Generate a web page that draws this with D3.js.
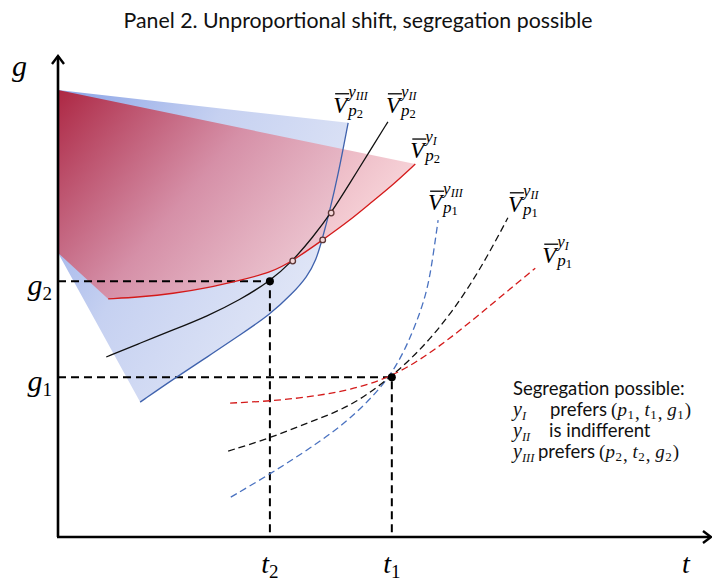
<!DOCTYPE html>
<html><head><meta charset="utf-8">
<script src="https://cdn.jsdelivr.net/npm/d3@7"></script>
<style>body{margin:0;background:#fff}</style>
</head><body>
<svg id="c" width="712" height="582"></svg>
<script>
// ---------- data (t, g units) ----------
const tickT = [3.25, 5.12];                 // t2, t1
const tickTLabels = [["t","2"],["t","1"]];
const tickG = [5.33, 3.33];                 // g2, g1
const tickGLabels = [["g","2"],["g","1"]];

const vP2yIII = [[1.26,2.81],[1.79,3.31],[2.29,3.75],[2.79,4.21],[3.25,4.63],[3.60,5.08],[3.82,5.42],[3.96,5.77],[4.05,6.19],[4.17,6.81],[4.29,7.50],[4.45,8.63]];
const vP2yII  = [[0.74,3.75],[1.26,4.04],[1.76,4.31],[2.29,4.60],[2.79,4.94],[3.25,5.33],[3.60,5.75],[3.91,6.25],[4.19,6.75],[4.48,7.38],[4.79,8.06],[5.06,8.65]];
const vP2yI   = [[0.77,4.96],[1.26,5.00],[1.76,5.07],[2.29,5.19],[2.79,5.35],[3.25,5.50],[3.60,5.75],[4.06,6.19],[4.48,6.60],[4.83,7.00],[5.14,7.34],[5.48,7.77]];

const vP1yIII = [[2.65,0.83],[3.25,1.31],[3.87,1.85],[4.48,2.44],[5.12,3.33],[5.44,4.25],[5.66,5.08],[5.75,5.83],[5.83,6.60]];
const vP1yII  = [[2.61,1.79],[3.25,2.06],[3.87,2.40],[4.48,2.71],[5.12,3.33],[5.71,4.10],[6.21,5.00],[6.58,5.83],[6.90,6.65]];
const vP1yI   = [[2.64,2.79],[3.25,2.83],[3.87,2.92],[4.48,3.06],[5.12,3.33],[5.71,3.83],[6.21,4.35],[6.73,4.94],[7.32,5.60]];

const regionTopLeft = [0, 9.31];
const regionLeft = [0, 5.92];

const bundles = [[3.25,5.33],[5.12,3.33]];          // (t2,g2), (t1,g1)
const crossings = [[3.60,5.75],[4.06,6.19],[4.19,6.75]];

const titleText = "Panel 2. Unproportional shift, segregation possible";
const legendTitle = "Segregation possible:";

// ---------- setup ----------
const svg = d3.select("#c");
const x = d3.scaleLinear().domain([0,10]).range([58,710]);
const y = d3.scaleLinear().domain([0,10]).range([537,57]);
const line = d3.line().x(d=>x(d[0])).y(d=>y(d[1])).curve(d3.curveBasis);

const defs = svg.append("defs");
const gb = defs.append("linearGradient").attr("id","gblue").attr("gradientUnits","userSpaceOnUse")
  .attr("x1",58).attr("y1",90).attr("x2",350).attr("y2",260);
gb.append("stop").attr("offset",0).attr("stop-color","#8aa3e6");
gb.append("stop").attr("offset",0.45).attr("stop-color","#c6d1f1");
gb.append("stop").attr("offset",1).attr("stop-color","#e3e8f7");
const gr = defs.append("linearGradient").attr("id","gred").attr("gradientUnits","userSpaceOnUse")
  .attr("x1",58).attr("y1",90).attr("x2",340).attr("y2",330);
gr.append("stop").attr("offset",0).attr("stop-color","#ad2743").attr("stop-opacity",1);
gr.append("stop").attr("offset",0.45).attr("stop-color","#d7889f").attr("stop-opacity",0.9);
gr.append("stop").attr("offset",1).attr("stop-color","#fdd8da").attr("stop-opacity",0.75);

function pt(d){return x(d[0])+","+y(d[1]);}
const bluePath = "M"+pt(regionTopLeft)+"L"+line(vP2yIII.slice().reverse()).slice(1)+"L"+pt(regionLeft)+"Z";
svg.append("path").attr("d",bluePath).attr("fill","url(#gblue)");
const redPath = "M"+pt(regionTopLeft)+"L"+line(vP2yI.slice().reverse()).slice(1)+"L"+pt(regionLeft)+"Z";
svg.append("path").attr("d",redPath).attr("fill","url(#gred)");

// guide dashed lines
tickT.forEach((t,i)=>{
  const g = tickG[i];
  svg.append("path").attr("d",`M${x(0)},${y(g)}H${x(t)}V${y(0)}`)
    .attr("fill","none").attr("stroke","#000").attr("stroke-width",2).attr("stroke-dasharray","8,5");
});

// curves
const curves = [
  {d:vP2yIII, c:"#3f62ad", dash:null},
  {d:vP2yII,  c:"#111",    dash:null},
  {d:vP2yI,   c:"#d41a1a", dash:null},
  {d:vP1yIII, c:"#4a72c0", dash:"7,4"},
  {d:vP1yII,  c:"#111",    dash:"7,4"},
  {d:vP1yI,   c:"#d41a1a", dash:"7,4"}
];
curves.forEach(k=>{
  svg.append("path").attr("d",line(k.d)).attr("fill","none").attr("stroke",k.c)
    .attr("stroke-width",1.3).attr("stroke-dasharray",k.dash);
});

// axes
svg.append("path").attr("d",`M${x(0)},${y(0)}V${y(10)-1}`).attr("stroke","#000").attr("stroke-width",2.6).attr("fill","none");
svg.append("path").attr("d",`M${x(0)-1},${y(0)}H${x(10)}`).attr("stroke","#000").attr("stroke-width",2.6).attr("fill","none");
svg.append("path").attr("d",`M${x(0)-6},${y(10)+7}L${x(0)},${y(10)-1}L${x(0)+6},${y(10)+7}`).attr("stroke","#000").attr("stroke-width",2.4).attr("fill","none");
svg.append("path").attr("d",`M${x(10)-7},${y(0)-6}L${x(10)+1},${y(0)}L${x(10)-7},${y(0)+6}`).attr("stroke","#000").attr("stroke-width",2.4).attr("fill","none");

// points
svg.selectAll(".cr").data(crossings).enter().append("circle")
  .attr("cx",d=>x(d[0])).attr("cy",d=>y(d[1])).attr("r",2.8)
  .attr("fill","#f3d6d8").attr("stroke","#5b3535").attr("stroke-width",1.3);
svg.selectAll(".bd").data(bundles).enter().append("circle")
  .attr("cx",d=>x(d[0])).attr("cy",d=>y(d[1])).attr("r",4).attr("fill","#000");

const serif = "'Liberation Serif', 'DejaVu Serif', serif";
const sans = "Lato, 'Open Sans', sans-serif";

// title
svg.append("text").attr("x",358).attr("y",28).attr("text-anchor","middle")
  .attr("font-family",sans).attr("font-size",21.3).attr("fill","#111").text(titleText);

// axis labels
svg.append("text").attr("x",12).attr("y",76).attr("font-family",serif).attr("font-style","italic")
  .attr("font-size",30).text("g");
svg.append("text").attr("x",682).attr("y",573).attr("font-family",serif).attr("font-style","italic")
  .attr("font-size",28).text("t");

function subLabel(px, py, parts, anchor, big, small){
  const t = svg.append("text").attr("x",px).attr("y",py).attr("text-anchor",anchor)
    .attr("font-family",serif).attr("font-size",big);
  t.append("tspan").attr("font-style","italic").text(parts[0]);
  t.append("tspan").attr("font-size",small).attr("dy",5).text(parts[1]);
  return t;
}
tickT.forEach((t,i)=>subLabel(x(t), 573, tickTLabels[i], "middle", 28, 19));
tickG.forEach((g,i)=>subLabel(52, y(g)+14, tickGLabels[i], "end", 30, 19));

// V-bar labels
function vLabel(xl, base, supSub, subDigit){
  const g = svg.append("g").attr("font-family",serif).attr("font-style","italic");
  g.append("text").attr("x",xl).attr("y",base).attr("font-size",23).text("V");
  g.append("line").attr("x1",xl+2).attr("x2",xl+16).attr("y1",base-19).attr("y2",base-19)
    .attr("stroke","#000").attr("stroke-width",1.3);
  const s = g.append("text").attr("x",xl+15).attr("y",base-16).attr("font-size",17);
  s.append("tspan").text("y");
  s.append("tspan").attr("font-size",12).attr("dy",3).text(supSub);
  const b = g.append("text").attr("x",xl+15).attr("y",base+3).attr("font-size",17);
  b.append("tspan").text("p");
  b.append("tspan").attr("font-size",12.5).attr("font-style","normal").attr("dy",2).text(subDigit);
}
const endOf = a=>a[a.length-1];
function vAt(arr, dx, dy, s, d){ const e=endOf(arr); vLabel(x(e[0])+dx, y(e[1])+dy, s, d); }
vAt(vP2yIII, -15, -10, "III", "2");
vAt(vP2yII, -2, -9, "II", "2");
vAt(vP2yI, -5, -6, "I", "2");
vAt(vP1yIII, -10, -10, "III", "1");
vAt(vP1yII, 0, -6, "II", "1");
vAt(vP1yI, 7, -5, "I", "1");

// legend
const lx = 513;
const lfs = 18.5;
svg.append("text").attr("x",lx).attr("y",395).attr("font-family",sans).attr("font-size",lfs).attr("fill","#111").text(legendTitle);
function legendRow(base, sub, word, wx, n){
  const g = svg.append("g").attr("fill","#111");
  const a = g.append("text").attr("x",lx).attr("y",base).attr("font-family",serif).attr("font-style","italic").attr("font-size",20);
  a.append("tspan").text("y");
  a.append("tspan").attr("font-size",12.5).attr("dy",4).text(sub);
  const w = g.append("text").attr("x",wx).attr("y",base).attr("font-family",sans).attr("font-size",lfs).text(word);
  if(n){
    const tx = wx + w.node().getComputedTextLength() + 4;
    const t = g.append("text").attr("x",tx).attr("y",base).attr("font-family",serif).attr("font-size",19);
    const parts = ["p","t","g"];
    t.append("tspan").text("(");
    parts.forEach((p,i)=>{
      t.append("tspan").attr("font-style","italic").attr("dy",i===0?0:-3).text(p);
      t.append("tspan").attr("font-size",13).attr("dy",3).attr("dx",0.5).text(n);
      if(i<2) t.append("tspan").attr("dx",1).text(", ");
    });
    t.append("tspan").attr("dy",-3).attr("dx",1).text(")");
  }
}
legendRow(416, "I", "prefers", 550, "1");
legendRow(437, "II", "is indifferent", 549, null);
legendRow(458, "III", "prefers", 538, "2");
</script>
</body></html>
